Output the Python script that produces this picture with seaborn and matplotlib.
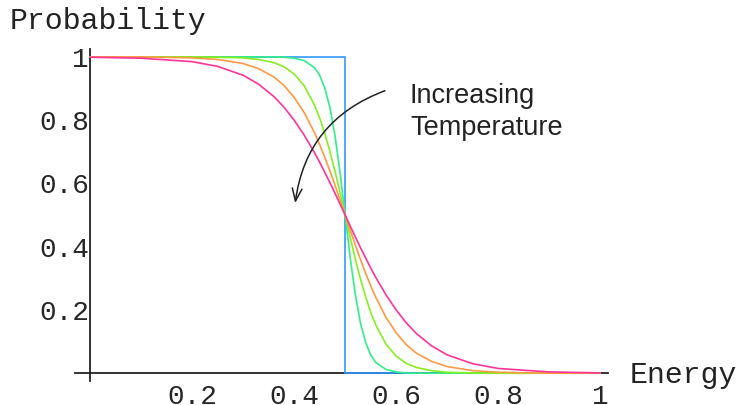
import matplotlib
matplotlib.use("Agg")
import matplotlib.pyplot as plt
import seaborn as sns
import pandas as pd

# Energy grid (shared by all curves)
energy = [0.0, 0.1, 0.2, 0.25, 0.3, 0.33, 0.36, 0.38, 0.40, 0.42, 0.44, 0.45, 0.46,
          0.47, 0.48, 0.49, 0.50, 0.51, 0.52, 0.53, 0.54, 0.55, 0.56, 0.58, 0.60,
          0.62, 0.64, 0.67, 0.70, 0.75, 0.80, 0.90, 1.0]

# Occupation probability, coldest to hottest
prob_green = [1, 1, 1, 1, 1, 1, 1, 0.999, 0.996, 0.988, 0.966, 0.942, 0.902,
              0.841, 0.752, 0.635, 0.5, 0.365, 0.248, 0.159, 0.098, 0.058, 0.034,
              0.012, 0.004, 0.001, 0, 0, 0, 0, 0, 0, 0]
prob_lime = [1, 1, 1, 0.999, 0.997, 0.992, 0.982, 0.969, 0.946, 0.908, 0.847, 0.807,
             0.758, 0.702, 0.639, 0.571, 0.5, 0.429, 0.361, 0.298, 0.242, 0.193, 0.153,
             0.092, 0.054, 0.031, 0.018, 0.008, 0.003, 0.001, 0, 0, 0]
prob_orange = [1, 1, 0.997, 0.992, 0.979, 0.963, 0.937, 0.910, 0.872, 0.823, 0.760,
               0.723, 0.683, 0.640, 0.595, 0.548, 0.5, 0.452, 0.405, 0.360, 0.317,
               0.277, 0.240, 0.177, 0.128, 0.090, 0.063, 0.037, 0.021, 0.008, 0.003, 0, 0]
prob_pink = [0.999, 0.996, 0.985, 0.970, 0.942, 0.914, 0.875, 0.841, 0.800, 0.752,
             0.697, 0.667, 0.635, 0.603, 0.569, 0.535, 0.5, 0.465, 0.431, 0.397, 0.365,
             0.333, 0.303, 0.248, 0.200, 0.159, 0.125, 0.086, 0.058, 0.030, 0.015,
             0.004, 0.001]

# T = 0 step
step_energy = [0.0, 0.5, 0.5, 1.0]
step_prob = [1, 1, 0, 0]

sns.set_style("white")

fig = plt.figure(figsize=(7.42, 4.05), dpi=100)
ax = fig.add_axes([0.101, 0.059, 0.718, 0.82])

lw = 1.2
sns.lineplot(x=step_energy, y=step_prob, color="#3399ff", lw=lw, ax=ax,
             sort=False, estimator=None)
curves = [(prob_green, "#33ee88"), (prob_lime, "#88ee22"),
          (prob_orange, "#ff9944"), (prob_pink, "#ff3399")]
for vals, col in curves:
    df = pd.DataFrame({"energy": energy, "prob": vals})
    sns.lineplot(data=df, x="energy", y="prob", color=col, lw=lw, ax=ax,
                 estimator=None)

ax.set_xlim(-0.03, 1.015)
ax.set_ylim(-0.025, 1.025)

# Mathematica-style axes crossing at the origin
for side in ["top", "right"]:
    ax.spines[side].set_visible(False)
ax.spines["left"].set_position(("data", 0))
ax.spines["bottom"].set_position(("data", 0))
for side in ["left", "bottom"]:
    ax.spines[side].set_color("#222222")
    ax.spines[side].set_linewidth(1.3)
    ax.spines[side].set_zorder(1)

mono = "Liberation Mono"
ax.set_xticks([0.2, 0.4, 0.6, 0.8, 1.0])
ax.set_xticklabels(["0.2", "0.4", "0.6", "0.8", "1"], family=mono, fontsize=20)
ax.set_yticks([0.2, 0.4, 0.6, 0.8, 1.0])
ax.set_yticklabels(["0.2", "0.4", "0.6", "0.8", "1"], family=mono, fontsize=20)
ax.tick_params(axis="x", direction="in", length=2.5, width=1, pad=8, color="#222222")
ax.tick_params(axis="y", direction="in", length=2.5, width=1, pad=1, color="#222222")
ax.set_xlabel("")
ax.set_ylabel("")

fig.text(10 / 742, 1 - 29 / 405, "Probability", family=mono, fontsize=21.5,
         va="baseline", ha="left", color="#222222")
fig.text(630 / 742, 1 - 383 / 405, "Energy", family=mono, fontsize=21.5,
         va="baseline", ha="left", color="#222222")

sans = "Liberation Sans"
ax.text(0.627, 0.855, "Increasing", family=sans, fontsize=19.5, va="baseline",
        color="#222222")
ax.text(0.627, 0.753, "Temperature", family=sans, fontsize=19.5, va="baseline",
        color="#222222")

ax.annotate("", xy=(0.402, 0.538), xytext=(0.578, 0.893),
            arrowprops=dict(arrowstyle="->,head_length=0.9,head_width=0.35",
                            connectionstyle="arc3,rad=0.3", color="#222222",
                            lw=1.1, shrinkA=0, shrinkB=0))

fig.savefig("out.png", dpi=100)
